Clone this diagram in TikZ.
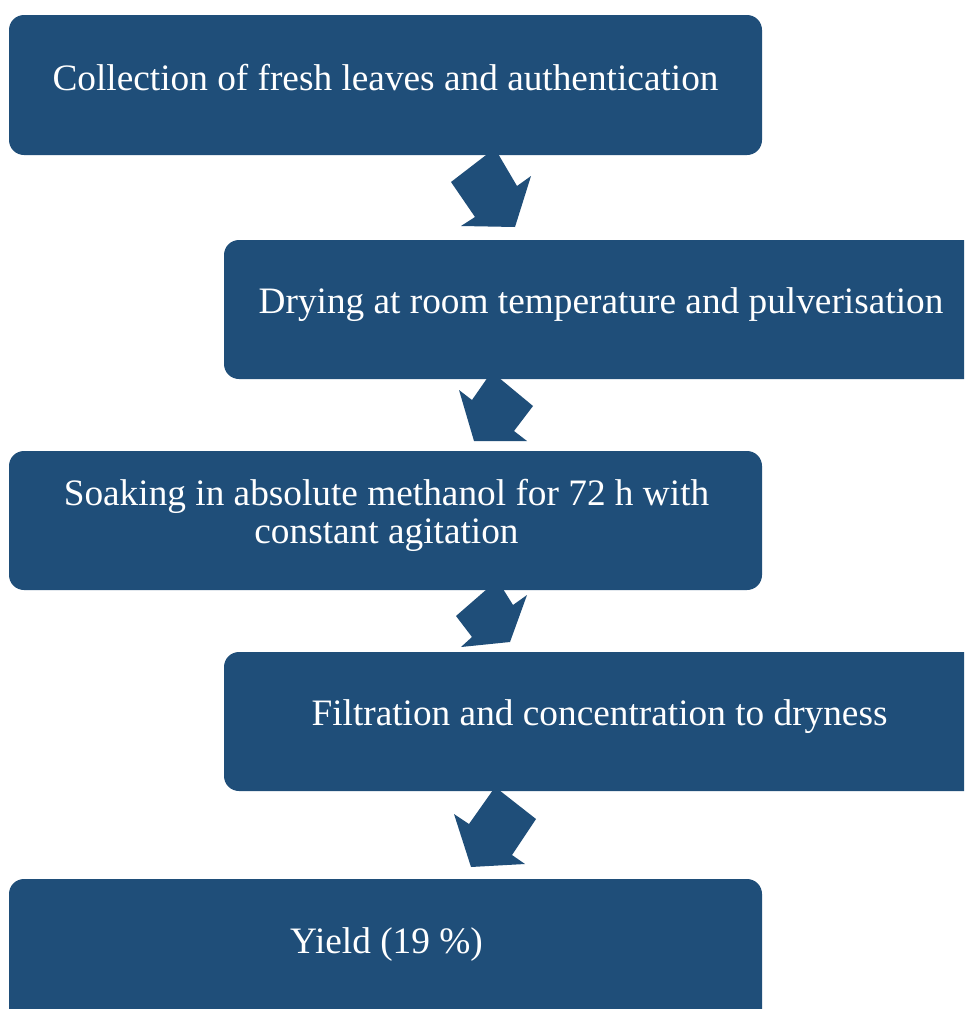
\documentclass[tikz,border=0pt]{standalone}
\usepackage{fontspec}
\setmainfont{Liberation Serif}
\newfontfamily\stepfont{Liberation Serif}
\definecolor{boxblue}{RGB}{31,78,121}
\begin{document}
\begin{tikzpicture}[x=1pt,y=-1pt,
  stepbox/.style={fill=boxblue,draw=none,rounded corners=15pt,inner sep=0pt,outer sep=0pt},
  steplabel/.style={text=white,inner sep=0pt,anchor=base,font=\stepfont\fontsize{37.3}{38}\selectfont},
  blockarrow/.style={fill=boxblue,draw=none}]
\useasboundingbox (0,0) rectangle (964,1009);
\clip (0,0) rectangle (964,1009);
\fill[white] (0,0) rectangle (964,1009);
% arrows
\fill[blockarrow] (490,152) -- (451,182) -- (475,217) -- (461,226) -- (515,227) -- (531,176) -- (517,186) -- (497,152) -- cycle;
\fill[blockarrow] (488,377) -- (472,400) -- (459,390) -- (474,441) -- (527,441) -- (514,431) -- (533,406) -- (498,377) -- cycle;
\fill[blockarrow] (487,589) -- (456,616) -- (472,637) -- (461,647) -- (510,642) -- (527,595) -- (513,605) -- (503,589) -- cycle;
\fill[blockarrow] (493,790) -- (469,824) -- (454,814) -- (471,867) -- (525,864) -- (512,855) -- (536,819) -- (499,790) -- cycle;
% boxes
\node[stepbox,minimum width=753pt,minimum height=140pt] (b1) at (385.5,85) {};
\node[stepbox,minimum width=776pt,minimum height=139pt] (b2) at (612,309.5) {};
\node[stepbox,minimum width=753pt,minimum height=139pt] (b3) at (385.5,520.5) {};
\node[stepbox,minimum width=776pt,minimum height=139pt] (b4) at (612,721.5) {};
\node[stepbox,minimum width=753pt,minimum height=171pt] (b5) at (385.5,964.5) {};
% texts
\node[steplabel] (t1) at (385.5,90) {Collection of fresh leaves and authentication};
\node[steplabel] (t2) at (601,313) {Drying at room temperature and pulverisation};
\node[steplabel] (t3a) at (386.5,505) {Soaking in absolute methanol for 72 h with};
\node[steplabel] (t3b) at (386.5,543) {constant agitation};
\node[steplabel] (t4) at (599.5,725) {Filtration and concentration to dryness};
\node[steplabel] (t5) at (386.5,953) {Yield (19 \%)};
\end{tikzpicture}
\end{document}
